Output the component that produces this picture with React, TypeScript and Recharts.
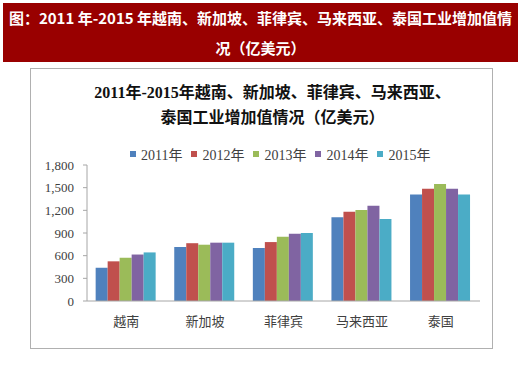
import { BarChart, Bar, XAxis, YAxis } from 'recharts'

const countries = ['越南', '新加坡', '菲律宾', '马来西亚', '泰国']
const years = ['2011年', '2012年', '2013年', '2014年', '2015年']
const v2011 = [440, 715, 700, 1110, 1410]
const v2012 = [525, 765, 780, 1180, 1485]
const v2013 = [572, 745, 850, 1205, 1550]
const v2014 = [615, 772, 890, 1260, 1485]
const v2015 = [643, 772, 900, 1085, 1410]
const yTicks = [0, 300, 600, 900, 1200, 1500, 1800]
const boundaryTicks = [0, 1, 2, 3, 4, 5]

const COLORS = ['#4F81BD', '#C0504D', '#9BBB59', '#8064A2', '#4BACC6']
const series = [v2011, v2012, v2013, v2014, v2015]

const data = countries.map((name, i) => {
  const row: Record<string, string | number> = { name }
  years.forEach((y, j) => {
    row[y] = series[j][i]
  })
  return row
})

const SERIF = '"Liberation Serif", "Noto Sans CJK SC", serif'
const CJK = '"Noto Sans CJK SC", sans-serif'
const AXIS = '#a6a6a6'
const TEXT = '#404040'

export default function App() {
  return (
    <div style={{ position: 'absolute', left: 0, top: 0, width: 520, height: 366, background: '#fff', overflow: 'hidden' }}>
      <div
        style={{
          position: 'absolute', left: 3, top: 3, width: 515, height: 59,
          background: '#990000', color: '#fff', fontFamily: CJK, fontWeight: 700,
          fontSize: 15, textAlign: 'center', lineHeight: '30px',
        }}
      >
        <div>图：2011 年-2015 年越南、新加坡、菲律宾、马来西亚、泰国工业增加值情</div>
        <div>况（亿美元）</div>
      </div>

      <div style={{ position: 'absolute', left: 30, top: 68, width: 461, height: 279, border: '1.5px solid #b0b0b0' }} />

      <div
        style={{
          position: 'absolute', left: 41, top: 80, width: 463, textAlign: 'center',
          fontFamily: SERIF, fontWeight: 700, fontSize: 16, lineHeight: '25px', color: '#111',
        }}
      >
        <div>2011年-2015年越南、新加坡、菲律宾、马来西亚、</div>
        <div>泰国工业增加值情况（亿美元）</div>
      </div>

      <div style={{ position: 'absolute', left: 130, top: 144, display: 'flex', gap: 9, fontFamily: SERIF, fontSize: 14, color: TEXT }}>
        {years.map((y, i) => (
          <span key={y} style={{ display: 'flex', alignItems: 'center', gap: 5 }}>
            <span style={{ width: 6, height: 6, background: COLORS[i] }} />
            {y}
          </span>
        ))}
      </div>

      <div style={{ position: 'absolute', left: 0, top: 0 }}>
        <BarChart
          width={520}
          height={366}
          data={data}
          margin={{ top: 165, right: 40, bottom: 35, left: 27 }}
          barGap={0}
          barCategoryGap="11%"
        >
          <XAxis
            dataKey="name"
            height={30}
            axisLine={{ stroke: AXIS }}
            tickLine={false}
            tickSize={0}
            tickMargin={16}
            tick={{ fontSize: 13, fill: TEXT, fontFamily: CJK }}
          />
          <XAxis
            xAxisId="b"
            type="number"
            domain={[0, 5]}
            ticks={boundaryTicks}
            mirror
            height={0}
            axisLine={false}
            tickLine={{ stroke: AXIS }}
            tickSize={4}
            tickFormatter={() => ''}
          />
          <YAxis
            width={60}
            domain={[0, 1800]}
            ticks={yTicks}
            interval={0}
            axisLine={{ stroke: AXIS }}
            tickLine={{ stroke: AXIS }}
            tickSize={4}
            tickMargin={9}
            tickFormatter={(v: number) => v.toLocaleString('en-US')}
            tick={{ fontSize: 13, fill: TEXT, fontFamily: SERIF }}
          />
          {years.map((y, i) => (
            <Bar key={y} dataKey={y} fill={COLORS[i]} isAnimationActive={false} />
          ))}
        </BarChart>
      </div>
    </div>
  )
}
